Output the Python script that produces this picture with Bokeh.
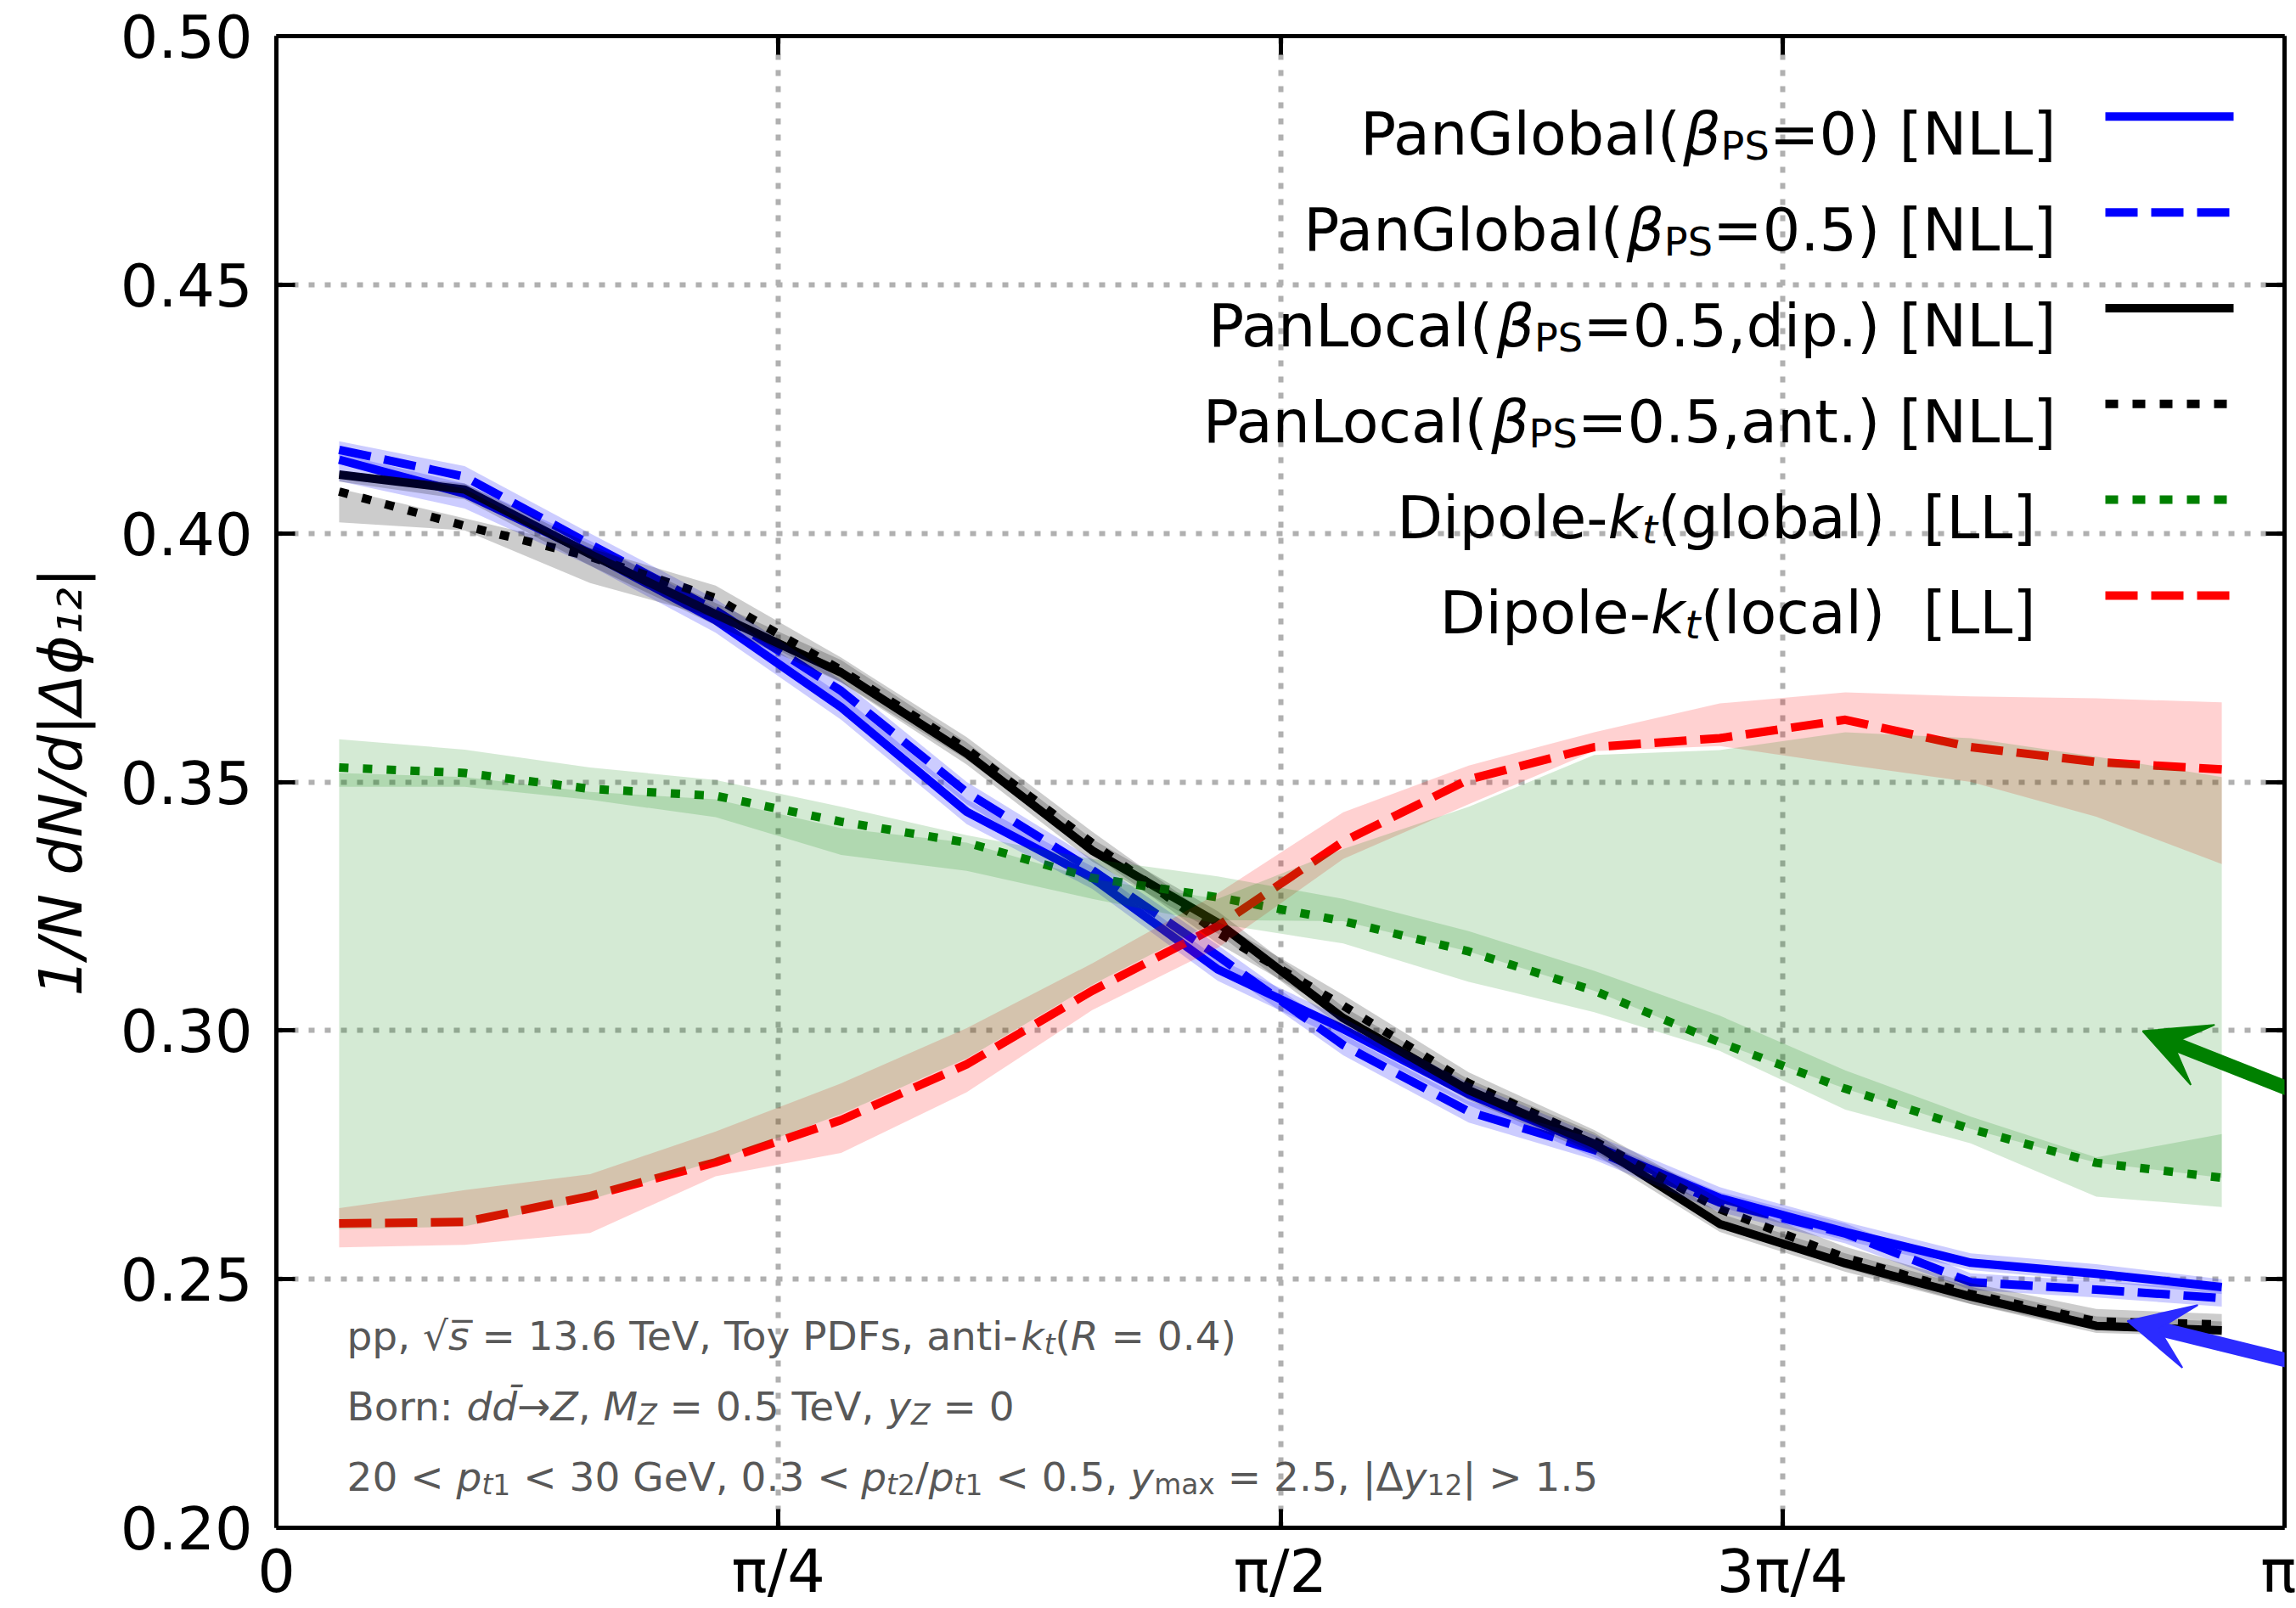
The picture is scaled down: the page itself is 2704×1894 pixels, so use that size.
import math
from bokeh.plotting import figure
from bokeh.models import (LinearAxis, FixedTicker, PrintfTickFormatter, Label,
                          Arrow, VeeHead, Range1d)
from bokeh.embed import file_html
from bokeh.resources import INLINE

PI = math.pi

# ---------------- data ----------------
# bin centres of |Δφ12| in units of π (16 bins of width π/16)
dphi_over_pi = [0.03125, 0.09375, 0.15625, 0.21875, 0.28125, 0.34375, 0.40625, 0.46875,
                0.53125, 0.59375, 0.65625, 0.71875, 0.78125, 0.84375, 0.90625, 0.96875]
dphi = [v * PI for v in dphi_over_pi]

panglobal_b0 = [0.4148, 0.4080, 0.3960, 0.3825, 0.3650, 0.3440, 0.3307, 0.3123,
                0.3003, 0.2872, 0.2768, 0.2663, 0.2595, 0.2533, 0.2511, 0.2484]
panglobal_b0_lo = [0.4105, 0.4050, 0.3935, 0.3800, 0.3625, 0.3415, 0.3285, 0.3100,
                   0.2980, 0.2850, 0.2745, 0.2645, 0.2578, 0.2518, 0.2496, 0.2470]
panglobal_b0_hi = [0.4160, 0.4100, 0.3985, 0.3850, 0.3675, 0.3465, 0.3330, 0.3145,
                   0.3025, 0.2895, 0.2790, 0.2685, 0.2615, 0.2552, 0.2530, 0.2500]

panglobal_b05 = [0.4168, 0.4114, 0.3978, 0.3845, 0.3683, 0.3479, 0.3323, 0.3150,
                 0.2971, 0.2837, 0.2760, 0.2654, 0.2592, 0.2494, 0.2479, 0.2462]
panglobal_b05_lo = [0.4140, 0.4090, 0.3955, 0.3820, 0.3660, 0.3455, 0.3300, 0.3128,
                    0.2950, 0.2815, 0.2740, 0.2635, 0.2572, 0.2478, 0.2463, 0.2445]
panglobal_b05_hi = [0.4185, 0.4135, 0.4000, 0.3868, 0.3705, 0.3500, 0.3345, 0.3172,
                    0.2992, 0.2858, 0.2782, 0.2675, 0.2612, 0.2512, 0.2496, 0.2480]

panlocal_dip = [0.4118, 0.4088, 0.3958, 0.3837, 0.3720, 0.3557, 0.3362, 0.3217,
                0.3025, 0.2880, 0.2772, 0.2611, 0.2532, 0.2465, 0.2406, 0.2397]
panlocal_dip_lo = [0.4104, 0.4068, 0.3935, 0.3815, 0.3700, 0.3535, 0.3340, 0.3195,
                   0.3005, 0.2860, 0.2752, 0.2595, 0.2515, 0.2450, 0.2392, 0.2385]
panlocal_dip_hi = [0.4125, 0.4100, 0.3978, 0.3860, 0.3745, 0.3580, 0.3385, 0.3240,
                   0.3048, 0.2902, 0.2795, 0.2632, 0.2552, 0.2485, 0.2425, 0.2415]

panlocal_ant = [0.4084, 0.4015, 0.3953, 0.3870, 0.3725, 0.3566, 0.3377, 0.3197,
                0.3050, 0.2894, 0.2778, 0.2641, 0.2543, 0.2470, 0.2415, 0.2409]
panlocal_ant_lo = [0.4022, 0.4006, 0.3900, 0.3830, 0.3700, 0.3545, 0.3355, 0.3175,
                   0.3028, 0.2872, 0.2756, 0.2620, 0.2522, 0.2450, 0.2398, 0.2392]
panlocal_ant_hi = [0.4090, 0.4030, 0.3970, 0.3895, 0.3750, 0.3590, 0.3400, 0.3220,
                   0.3072, 0.2916, 0.2800, 0.2662, 0.2565, 0.2492, 0.2440, 0.2430]

dipole_global = [0.3529, 0.3518, 0.3486, 0.3472, 0.3420, 0.3378, 0.3307, 0.3268,
                 0.3220, 0.3159, 0.3080, 0.2976, 0.2883, 0.2802, 0.2734, 0.2704]
dipole_global_lo1 = [0.3490, 0.3490, 0.3464, 0.3429, 0.3353, 0.3321, 0.3265, 0.3215,
                     0.3175, 0.3098, 0.3037, 0.2959, 0.2841, 0.2773, 0.2666, 0.2645]
dipole_global_hi1 = [0.3586, 0.3565, 0.3529, 0.3504, 0.3450, 0.3393, 0.3345, 0.3310,
                     0.3265, 0.3200, 0.3120, 0.3030, 0.2920, 0.2827, 0.2745, 0.2792]
dipole_global_lo2 = [0.2600, 0.2606, 0.2660, 0.2738, 0.2832, 0.2944, 0.3092, 0.3222,
                     0.3220, 0.3159, 0.3080, 0.2976, 0.2883, 0.2802, 0.2734, 0.2704]
dipole_global_hi2 = [0.3518, 0.3510, 0.3480, 0.3465, 0.3407, 0.3378, 0.3305, 0.3265,
                     0.3365, 0.3450, 0.3554, 0.3564, 0.3600, 0.3588, 0.3551, 0.3510]

dipole_local = [0.2612, 0.2615, 0.2667, 0.2735, 0.2820, 0.2932, 0.3080, 0.3210,
                0.3380, 0.3505, 0.3570, 0.3588, 0.3625, 0.3570, 0.3540, 0.3525]
dipole_local_lo = [0.2564, 0.2569, 0.2593, 0.2707, 0.2754, 0.2876, 0.3041, 0.3166,
                   0.3345, 0.3455, 0.3562, 0.3572, 0.3535, 0.3500, 0.3430, 0.3335]
dipole_local_hi = [0.2643, 0.2679, 0.2711, 0.2797, 0.2894, 0.3005, 0.3135, 0.3276,
                   0.3439, 0.3533, 0.3600, 0.3658, 0.3680, 0.3672, 0.3668, 0.3660]

y_ticks = [0.20, 0.25, 0.30, 0.35, 0.40, 0.45, 0.50]
x_ticks = [0.0, PI / 4, PI / 2, 3 * PI / 4, PI]
x_tick_labels = ["0", "π/4", "π/2", "3π/4", "π"]
y_axis_title = "1/N dN/d|Δϕ₁₂|"

# ---------------- layout helpers ----------------
W, H = 2704, 1894
FL, FR, FT, FB = 325, 2690, 42, 1802
XMIN, XMAX, YMIN, YMAX = 0.0, PI, 0.20, 0.50


def dx(px):
    return XMIN + (px - FL) / (FR - FL) * (XMAX - XMIN)


def dy(py):
    return YMAX - (py - FT) / (FB - FT) * (YMAX - YMIN)


FONT = "DejaVu Sans"
NBSP = "\u00a0"
CW = {' ': 0.318, '(': 0.390, ')': 0.390, ',': 0.318, '-': 0.361, '.': 0.318, '/': 0.337,
      ':': 0.337, '<': 0.838, '=': 0.838, '>': 0.838, '[': 0.390, ']': 0.390, '|': 0.337,
      NBSP: 0.318, '\u0304': 0.0, '\u0305': 0.0,
      'A': 0.684, 'B': 0.686, 'C': 0.698, 'D': 0.770, 'E': 0.632, 'F': 0.575, 'G': 0.775,
      'H': 0.752, 'I': 0.295, 'K': 0.656, 'L': 0.557, 'M': 0.863, 'N': 0.748, 'O': 0.787,
      'P': 0.603, 'R': 0.695, 'S': 0.635, 'T': 0.611, 'V': 0.684, 'Z': 0.685,
      'a': 0.613, 'b': 0.635, 'c': 0.550, 'd': 0.635, 'e': 0.615, 'f': 0.352, 'g': 0.635,
      'h': 0.634, 'i': 0.278, 'k': 0.579, 'l': 0.278, 'm': 0.974, 'n': 0.634, 'o': 0.612,
      'p': 0.635, 'r': 0.411, 's': 0.521, 't': 0.392, 'u': 0.634, 'v': 0.592, 'x': 0.592,
      'y': 0.592, 'β': 0.635, 'Δ': 0.684, 'ϕ': 0.700, 'π': 0.602, '√': 0.636, '→': 0.838}
for _d in "0123456789":
    CW[_d] = 0.636
KERN = {('T', 'e'): -0.10, ('T', 'o'): -0.10, ('V', ','): -0.05}


def tw(s, size):
    w = sum(CW.get(c, 0.6) for c in s)
    w += sum(KERN.get((a, b), 0.0) for a, b in zip(s, s[1:]))
    return w * size


def keep_spaces(s):
    # SVG text drops leading / trailing / doubled plain spaces
    n_lead = len(s) - len(s.lstrip(' '))
    n_trail = len(s) - len(s.rstrip(' '))
    core = s.strip(' ').replace('  ', ' ' + NBSP)
    return NBSP * n_lead + core + NBSP * n_trail


p = figure(width=W, height=H, output_backend="svg", toolbar_location=None,
           x_range=Range1d(XMIN, XMAX), y_range=Range1d(YMIN, YMAX),
           min_border_left=FL, min_border_right=W - FR,
           min_border_top=FT, min_border_bottom=H - FB)
p.outline_line_color = None
p.background_fill_color = "white"
p.border_fill_color = "white"


def place_runs(runs, anchor, base, size, color, align="left", sub_scale=0.7, sub_drop=0.2):
    """runs: list of (text, style, is_sub); horizontal text built run by run."""
    widths = [tw(t, size * (sub_scale if sub else 1.0)) for t, _, sub in runs]
    total = sum(widths)
    if align == "left":
        pos = anchor
    elif align == "right":
        pos = anchor - total
    else:
        pos = anchor - total / 2.0
    for (t, style, sub), w in zip(runs, widths):
        fs = size * (sub_scale if sub else 1.0)
        drop = sub_drop * size if sub else 0.0
        p.add_layout(Label(x=dx(pos), y=dy(base + drop), text=keep_spaces(t), text_font=FONT,
                           text_font_style=style, text_font_size=f"{fs:.1f}px",
                           text_color=color, text_baseline="alphabetic", text_align="left"))
        pos += w


# ---------------- axes ----------------
def style_axis(ax):
    ax.axis_line_width = 5
    ax.axis_line_color = "black"
    ax.major_tick_in = 22
    ax.major_tick_out = 0
    ax.major_tick_line_width = 5
    ax.major_tick_line_color = "black"
    ax.minor_tick_line_color = None


p.xaxis.ticker = FixedTicker(ticks=x_ticks)
p.yaxis.ticker = FixedTicker(ticks=y_ticks)
p.yaxis.formatter = PrintfTickFormatter(format="%.2f")
style_axis(p.xaxis[0])
style_axis(p.yaxis[0])
p.yaxis.major_label_text_font = FONT
p.yaxis.major_label_text_font_size = "70px"
p.yaxis.major_label_text_color = "black"
p.yaxis.major_label_standoff = 28
p.yaxis.axis_label = y_axis_title
p.yaxis.axis_label_text_font = FONT
p.yaxis.axis_label_text_font_size = "70px"
p.yaxis.axis_label_text_font_style = "italic"
p.yaxis.axis_label_text_color = "black"
p.yaxis.axis_label_standoff = 26

p.xaxis.major_label_overrides = {t: lab for t, lab in zip(x_ticks, x_tick_labels)}
p.xaxis.major_label_text_font = FONT
p.xaxis.major_label_text_font_size = "70px"
p.xaxis.major_label_text_color = "black"
p.xaxis.major_label_standoff = 10

ax_r = LinearAxis(ticker=FixedTicker(ticks=y_ticks),
                  major_label_overrides={t: "" for t in y_ticks}, major_label_standoff=0)
style_axis(ax_r)
p.add_layout(ax_r, "right")
ax_t = LinearAxis(ticker=FixedTicker(ticks=x_ticks),
                  major_label_overrides={t: "" for t in x_ticks}, major_label_standoff=0)
style_axis(ax_t)
p.add_layout(ax_t, "above")

p.xgrid.ticker = FixedTicker(ticks=x_ticks[1:-1])
p.ygrid.ticker = FixedTicker(ticks=y_ticks[1:-1])
p.xgrid.grid_line_color = "#b0b0b0"
p.ygrid.grid_line_color = "#b0b0b0"
p.xgrid.grid_line_width = 6
p.ygrid.grid_line_width = 6
p.xgrid.grid_line_dash = "7 12"
p.ygrid.grid_line_dash = "7 12"

# ---------------- curves ----------------
DASHED = "38 16"
DOTTED = "11 17"
series = [
    dict(y=panglobal_b0, color="#0000ff", dash="solid", alpha=0.2,
         bands=[(panglobal_b0_lo, panglobal_b0_hi)]),
    dict(y=panglobal_b05, color="#0000ff", dash=DASHED, alpha=0.2,
         bands=[(panglobal_b05_lo, panglobal_b05_hi)]),
    dict(y=panlocal_dip, color="#000000", dash="solid", alpha=0.2,
         bands=[(panlocal_dip_lo, panlocal_dip_hi)]),
    dict(y=panlocal_ant, color="#000000", dash=DOTTED, alpha=0.2,
         bands=[(panlocal_ant_lo, panlocal_ant_hi)]),
    dict(y=dipole_global, color="#008000", dash=DOTTED, alpha=0.17,
         bands=[(dipole_global_lo1, dipole_global_hi1), (dipole_global_lo2, dipole_global_hi2)]),
    dict(y=dipole_local, color="#ff0000", dash=DASHED, alpha=0.18,
         bands=[(dipole_local_lo, dipole_local_hi)]),
]

for s in series:
    p.line(dphi, s["y"], line_color=s["color"], line_width=10, line_dash=s["dash"],
           line_join="round")
# bands drawn over the lines; the red band goes under the green ones
band_order = [0, 1, 2, 3, 5, 4]
for k in band_order:
    s = series[k]
    for lo, hi in s["bands"]:
        p.varea(x=dphi, y1=lo, y2=hi, fill_color=s["color"], fill_alpha=s["alpha"])

# ---------------- legend (labels on the left, samples on the right) ----------------
legend_labels = [
    [("PanGlobal(", "normal", False), ("β", "italic", False), ("PS", "normal", True),
     ("=0) [NLL]", "normal", False)],
    [("PanGlobal(", "normal", False), ("β", "italic", False), ("PS", "normal", True),
     ("=0.5) [NLL]", "normal", False)],
    [("PanLocal(", "normal", False), ("β", "italic", False), ("PS", "normal", True),
     ("=0.5,dip.) [NLL]", "normal", False)],
    [("PanLocal(", "normal", False), ("β", "italic", False), ("PS", "normal", True),
     ("=0.5,ant.) [NLL]", "normal", False)],
    [("Dipole-", "normal", False), ("k", "italic", False), ("t", "italic", True),
     ("(global)  [LL]", "normal", False)],
    [("Dipole-", "normal", False), ("k", "italic", False), ("t", "italic", True),
     ("(local)  [LL]", "normal", False)],
]
LEG_ROW0, LEG_DY = 137, 113
LEG_TEXT_END = [2421, 2421, 2421, 2421, 2397, 2397]
LEG_X0, LEG_X1 = 2479, 2630
for i, (s, runs) in enumerate(zip(series, legend_labels)):
    cy = LEG_ROW0 + i * LEG_DY
    dash = s["dash"] if s["dash"] != DOTTED else "15 17"
    p.line([dx(LEG_X0), dx(LEG_X1)], [dy(cy), dy(cy)], line_color=s["color"],
           line_width=10, line_dash=dash)
    place_runs(runs, LEG_TEXT_END[i], cy + 21, 70, "black", align="right",
               sub_scale=0.66, sub_drop=0.2)

# ---------------- annotation text ----------------
ann_lines = [
    [("pp, ", "normal", False), ("√", "normal", False), ("s\u0305", "italic", False),
     (" = 13.6 TeV, Toy PDFs, anti-", "normal", False), ("k", "italic", False),
     ("t", "italic", True), ("(", "normal", False), ("R", "italic", False),
     (" = 0.4)", "normal", False)],
    [("Born: ", "normal", False), ("dd\u0304", "italic", False), ("→", "normal", False),
     ("Z", "italic", False), (", ", "normal", False), ("M", "italic", False),
     ("Z", "italic", True), (" = 0.5 TeV, ", "normal", False), ("y", "italic", False),
     ("Z", "italic", True), (" = 0", "normal", False)],
    [("20 < ", "normal", False), ("p", "italic", False), ("t", "italic", True),
     ("1", "normal", True), (" < 30 GeV, 0.3 < ", "normal", False), ("p", "italic", False),
     ("t", "italic", True), ("2", "normal", True), ("/", "normal", False),
     ("p", "italic", False), ("t", "italic", True), ("1", "normal", True),
     (" < 0.5, ", "normal", False), ("y", "italic", False), ("max", "normal", True),
     (" = 2.5, |Δ", "normal", False), ("y", "italic", False), ("12", "normal", True),
     ("| > 1.5", "normal", False)],
]
ANN_X, ANN_BASE0, ANN_DY = 408, 1576, 83
for i, runs in enumerate(ann_lines):
    place_runs(runs, ANN_X, ANN_BASE0 + i * ANN_DY, 47, "#585858", align="left",
               sub_scale=0.7, sub_drop=0.2)

# ---------------- arrows ----------------
p.add_layout(Arrow(end=VeeHead(size=76, fill_color="#008000", line_color="#008000",
                               line_width=2),
                   x_start=dx(2800), y_start=dy(1326), x_end=dx(2523), y_end=dy(1216),
                   line_color="#008000", line_width=17))
p.add_layout(Arrow(end=VeeHead(size=76, fill_color="#2b2bff", line_color="#2b2bff",
                               line_width=2),
                   x_start=dx(2800), y_start=dy(1631), x_end=dx(2505), y_end=dy(1558),
                   line_color="#2b2bff", line_width=17))

open("out.html", "w").write(file_html(p, INLINE))
